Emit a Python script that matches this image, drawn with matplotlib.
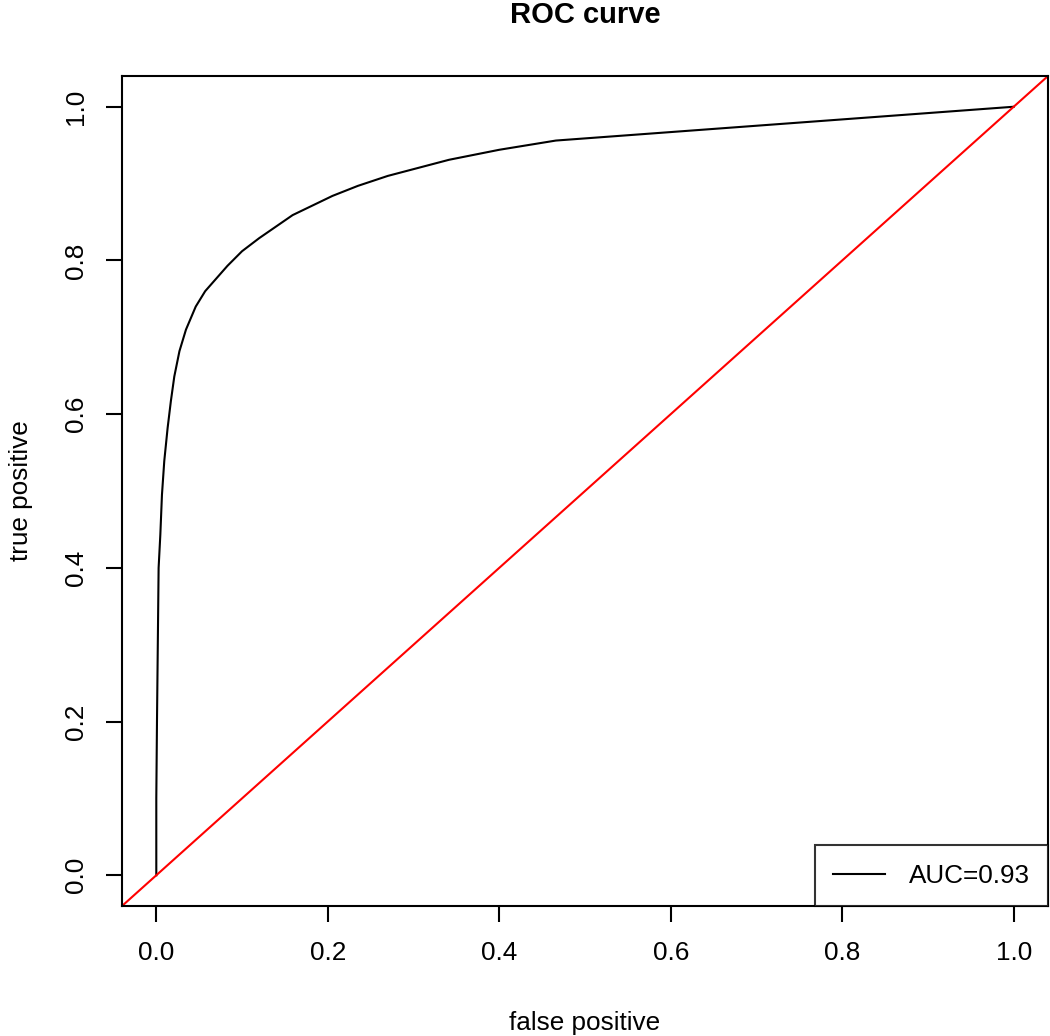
import numpy as np
import matplotlib
matplotlib.use("Agg")
import matplotlib.pyplot as plt

# ROC curve points
fpr = [0.0, 0.0, 0.0008, 0.0027, 0.0047, 0.0066, 0.0093, 0.0132, 0.017, 0.021,
       0.027, 0.0346, 0.046, 0.057, 0.0696, 0.083, 0.100, 0.120, 0.159,
       0.2055, 0.235, 0.270, 0.3415, 0.40, 0.466, 1.0]
tpr = [0.0, 0.10, 0.20, 0.40, 0.443, 0.495, 0.539, 0.582, 0.617, 0.649,
       0.682, 0.710, 0.740, 0.760, 0.776, 0.793, 0.812, 0.829, 0.859,
       0.884, 0.897, 0.910, 0.931, 0.944, 0.956, 1.0]
auc_label = "AUC=0.93"
ticks = [0.0, 0.2, 0.4, 0.6, 0.8, 1.0]
tick_labels = ["0.0", "0.2", "0.4", "0.6", "0.8", "1.0"]

plt.rcParams["font.family"] = ["Liberation Sans", "DejaVu Sans"]
fs = 18.8

fig = plt.figure(figsize=(10.5, 10.36), dpi=100)
ax = fig.add_axes([122/1050, 1 - 906/1036, 926/1050, 830/1036])

ax.plot(fpr, tpr, color="black", linewidth=1.5, label=auc_label)
ax.axline((0, 0), slope=1, color="#ff0000", linewidth=1.5)

ax.set_xlim(-0.04, 1.04)
ax.set_ylim(-0.04, 1.04)
ax.set_xticks(ticks)
ax.set_xticklabels(tick_labels, fontsize=fs)
ax.set_yticks(ticks)
ax.set_yticklabels(tick_labels, fontsize=fs, rotation=90, va="center")
ax.tick_params(axis="x", length=11.5, width=1.5, pad=14)
ax.tick_params(axis="y", length=11.5, width=1.5, pad=13)
for s in ax.spines.values():
    s.set_linewidth(1.5)

ax.set_xlabel("false positive", fontsize=fs)
ax.xaxis.set_label_coords(0.5, -0.126)
ax.set_ylabel("true positive", fontsize=fs)
ax.yaxis.set_label_coords(-0.096, 0.5)

fig.text(585/1050, 1 - 23/1036, "ROC curve", fontsize=21, fontweight="bold",
         ha="center", va="baseline")

leg = ax.legend(loc="lower right", fontsize=fs, frameon=True, fancybox=False,
                borderaxespad=0, borderpad=0.7, handlelength=2.0,
                handletextpad=0.9)
leg.get_frame().set_edgecolor("black")
leg.get_frame().set_linewidth(1.5)
for line in leg.get_lines():
    line.set_linewidth(1.5)

plt.savefig("out.png", dpi=100)
